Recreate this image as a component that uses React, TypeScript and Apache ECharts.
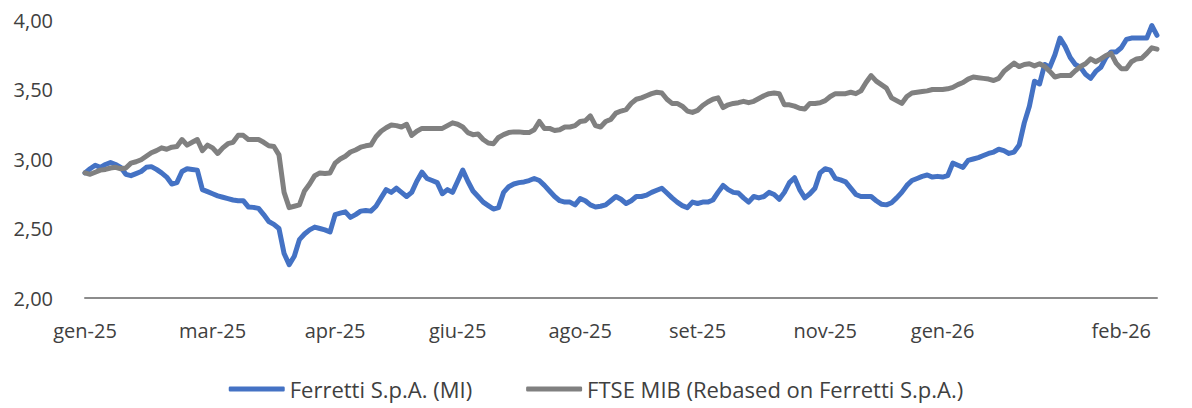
import React, { useEffect, useRef } from "react";
import * as echarts from "echarts";

// Tick labels on the category axis: [category index, label]
const tickLabels: [number, string][] = [
  [0, "gen-25"],
  [25, "mar-25"],
  [49, "apr-25"],
  [73, "giu-25"],
  [97, "ago-25"],
  [120, "set-25"],
  [145, "nov-25"],
  [168, "gen-26"],
  [203, "feb-26"],
];

const ferretti: number[] = [
  2.9, 2.93, 2.955, 2.94, 2.96, 2.975, 2.96, 2.94, 2.89, 2.88,
  2.895, 2.91, 2.94, 2.945, 2.925, 2.9, 2.87, 2.82, 2.83, 2.91,
  2.93, 2.925, 2.92, 2.78, 2.765, 2.75, 2.735, 2.725, 2.715, 2.705,
  2.7, 2.7, 2.655, 2.652, 2.645, 2.6, 2.55, 2.53, 2.5, 2.32,
  2.24, 2.3, 2.42, 2.46, 2.49, 2.51, 2.5, 2.49, 2.475, 2.6,
  2.61, 2.62, 2.58, 2.6, 2.625, 2.63, 2.625, 2.66, 2.72, 2.78,
  2.76, 2.79, 2.76, 2.73, 2.76, 2.84, 2.905, 2.86, 2.845, 2.83,
  2.75, 2.78, 2.76, 2.84, 2.92, 2.84, 2.77, 2.73, 2.69, 2.665,
  2.64, 2.65, 2.76, 2.8, 2.82, 2.83, 2.835, 2.845, 2.86, 2.845,
  2.81, 2.77, 2.73, 2.7, 2.69, 2.69, 2.67, 2.715, 2.7, 2.67,
  2.655, 2.66, 2.67, 2.7, 2.73, 2.71, 2.68, 2.7, 2.73, 2.73,
  2.74, 2.76, 2.775, 2.79, 2.755, 2.72, 2.69, 2.665, 2.65, 2.69,
  2.68, 2.69, 2.69, 2.705, 2.76, 2.81, 2.78, 2.76, 2.755, 2.72,
  2.69, 2.73, 2.72, 2.73, 2.76, 2.745, 2.71, 2.76, 2.83, 2.865,
  2.78, 2.72, 2.75, 2.79, 2.9, 2.93, 2.92, 2.86, 2.85, 2.835,
  2.79, 2.745, 2.73, 2.73, 2.73, 2.7, 2.675, 2.67, 2.685, 2.72,
  2.76, 2.81, 2.845, 2.86, 2.875, 2.885, 2.87, 2.875, 2.87, 2.88,
  2.97, 2.955, 2.94, 2.99, 3.0, 3.01, 3.025, 3.04, 3.05, 3.07,
  3.06, 3.04, 3.05, 3.1, 3.26, 3.38, 3.56, 3.54, 3.68, 3.66,
  3.75, 3.87, 3.81, 3.73, 3.68, 3.66, 3.61, 3.58, 3.63, 3.66,
  3.73, 3.77, 3.77, 3.8, 3.86, 3.87, 3.87, 3.87, 3.87, 3.96,
  3.89,
];

const ftseMib: number[] = [
  2.9, 2.89, 2.905, 2.92, 2.925, 2.935, 2.94, 2.93, 2.935, 2.97,
  2.98, 2.995, 3.02, 3.045, 3.06, 3.08, 3.07, 3.085, 3.09, 3.14,
  3.1, 3.12, 3.14, 3.06, 3.1, 3.08, 3.04, 3.08, 3.11, 3.12,
  3.17, 3.17, 3.14, 3.14, 3.14, 3.12, 3.095, 3.09, 3.03, 2.76,
  2.65, 2.66, 2.67, 2.77, 2.82, 2.88, 2.9, 2.895, 2.9, 2.97,
  3.0, 3.02, 3.05, 3.065, 3.085, 3.095, 3.1, 3.16, 3.2, 3.225,
  3.245, 3.24, 3.23, 3.25, 3.17, 3.2, 3.22, 3.22, 3.22, 3.22,
  3.22, 3.24, 3.26, 3.25, 3.23, 3.19, 3.175, 3.18, 3.14, 3.115,
  3.11, 3.155, 3.175, 3.19, 3.195, 3.195, 3.19, 3.19, 3.21, 3.27,
  3.22, 3.22, 3.205, 3.21, 3.23, 3.23, 3.24, 3.27, 3.275, 3.31,
  3.24, 3.23, 3.27, 3.285, 3.33, 3.345, 3.355, 3.4, 3.43, 3.44,
  3.455, 3.47, 3.48, 3.475, 3.43, 3.4, 3.4, 3.38, 3.345, 3.335,
  3.35, 3.385, 3.41, 3.43, 3.44, 3.37, 3.39, 3.4, 3.405, 3.415,
  3.405, 3.415, 3.435, 3.455, 3.47, 3.475, 3.47, 3.39, 3.39, 3.38,
  3.365, 3.36, 3.4, 3.4, 3.405, 3.42, 3.45, 3.47, 3.47, 3.47,
  3.48, 3.47, 3.49, 3.55, 3.6, 3.56, 3.535, 3.51, 3.44, 3.42,
  3.4, 3.45, 3.475, 3.48, 3.485, 3.49, 3.5, 3.5, 3.5, 3.505,
  3.515, 3.535, 3.55, 3.575, 3.59, 3.585, 3.58, 3.575, 3.565, 3.58,
  3.63, 3.66, 3.69, 3.665, 3.68, 3.685, 3.67, 3.685, 3.665, 3.63,
  3.59, 3.6, 3.6, 3.6, 3.635, 3.665, 3.685, 3.72, 3.7, 3.72,
  3.745, 3.76, 3.69, 3.65, 3.65, 3.7, 3.72, 3.725, 3.76, 3.8,
  3.79,
];

const categories: string[] = ferretti.map((_, i) => String(i));
const seriesNames = ["Ferretti S.p.A. (MI)", "FTSE MIB (Rebased on Ferretti S.p.A.)"];

const FONT = "'Open Sans', 'Noto Sans', sans-serif";
const TEXT = "#404040";

export default function App() {
  const ref = useRef<HTMLDivElement>(null);

  useEffect(() => {
    if (!ref.current) return;
    const chart = echarts.init(ref.current, null, { renderer: "svg" });
    const labelMap = new Map<number, string>(tickLabels);
    chart.setOption({
      animation: false,
      backgroundColor: "#ffffff",
      textStyle: { fontFamily: FONT },
      grid: { left: 85, right: 35, top: 20, bottom: 110, containLabel: false },
      legend: {
        bottom: 3,
        left: "center",
        itemWidth: 56,
        itemHeight: 5,
        itemGap: 54,
        icon: "roundRect",
        textStyle: { fontFamily: FONT, fontSize: 22, color: TEXT },
        data: seriesNames,
      },
      xAxis: {
        type: "category",
        data: categories,
        boundaryGap: false,
        axisLine: { show: true, lineStyle: { color: "#8c8c8c", width: 2 } },
        axisTick: { show: false },
        splitLine: { show: false },
        axisLabel: {
          interval: (index: number) => labelMap.has(index),
          formatter: (_v: string, index: number) => labelMap.get(index) ?? "",
          margin: 22,
          fontFamily: FONT,
          fontSize: 20,
          color: TEXT,
        },
      },
      yAxis: {
        type: "value",
        min: 2,
        max: 4,
        interval: 0.5,
        axisLine: { show: false },
        axisTick: { show: false },
        splitLine: { show: false },
        axisLabel: {
          formatter: (v: number) => v.toFixed(2).replace(".", ","),
          margin: 32,
          fontFamily: FONT,
          fontSize: 20,
          color: TEXT,
        },
      },
      series: [
        {
          name: seriesNames[0],
          type: "line",
          data: ferretti,
          showSymbol: false,
          symbol: "none",
          lineStyle: { color: "#4472C4", width: 5, join: "round", cap: "round" },
          itemStyle: { color: "#4472C4" },
        },
        {
          name: seriesNames[1],
          type: "line",
          data: ftseMib,
          showSymbol: false,
          symbol: "none",
          lineStyle: { color: "#808080", width: 5, join: "round", cap: "round" },
          itemStyle: { color: "#808080" },
        },
      ],
    });
    return () => chart.dispose();
  }, []);

  return (
    <div
      ref={ref}
      style={{ position: "fixed", left: 0, top: 0, width: 1192, height: 408 }}
    />
  );
}
